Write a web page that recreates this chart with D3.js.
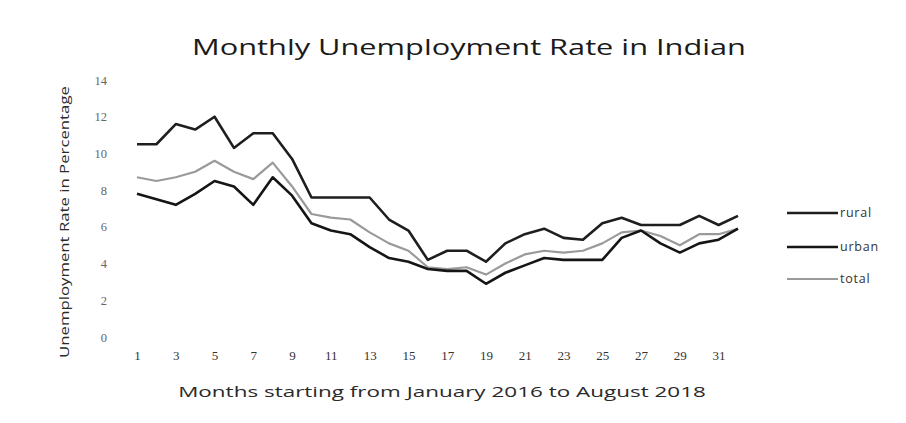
<!DOCTYPE html>
<html>
<head>
<meta charset="utf-8">
<script src="https://cdn.jsdelivr.net/npm/d3@7/dist/d3.min.js"></script>
<style>
  html, body { margin: 0; padding: 0; background: #fff; }
  svg { display: block; }
</style>
</head>
<body>
<svg id="chart" width="906" height="423"></svg>
<script>
const months = d3.range(1, 33);
const rural = [10.5, 10.5, 11.6, 11.3, 12.0, 10.3, 11.1, 11.1, 9.7, 7.6, 7.6, 7.6, 7.6, 6.4, 5.8, 4.2, 4.7, 4.7, 4.1, 5.1, 5.6, 5.9, 5.4, 5.3, 6.2, 6.5, 6.1, 6.1, 6.1, 6.6, 6.1, 6.6];
const urban = [7.8, 7.5, 7.2, 7.8, 8.5, 8.2, 7.2, 8.7, 7.7, 6.2, 5.8, 5.6, 4.9, 4.3, 4.1, 3.7, 3.6, 3.6, 2.9, 3.5, 3.9, 4.3, 4.2, 4.2, 4.2, 5.4, 5.8, 5.1, 4.6, 5.1, 5.3, 5.9];
const total = [8.7, 8.5, 8.7, 9.0, 9.6, 9.0, 8.6, 9.5, 8.2, 6.7, 6.5, 6.4, 5.7, 5.1, 4.7, 3.8, 3.7, 3.8, 3.4, 4.0, 4.5, 4.7, 4.6, 4.7, 5.1, 5.7, 5.8, 5.5, 5.0, 5.6, 5.6, 5.9];
const yTicks = [0, 2, 4, 6, 8, 10, 12, 14];
const xTickLabels = [1, 3, 5, 7, 9, 11, 13, 15, 17, 19, 21, 23, 25, 27, 29, 31];
const seriesNames = ["rural", "urban", "total"];

const title = "Monthly Unemployment Rate in Indian";
const yTitle = "Unemployment Rate in Percentage";
const xTitle = "Months starting from January 2016 to August 2018";

const svg = d3.select("#chart");

const x = d3.scalePoint().domain(months).range([137, 738]);
const y = d3.scaleLinear().domain([0, 14]).range([337, 80]);

const styles = {
  rural: { color: "#1e1e1e", width: 2.6 },
  urban: { color: "#151515", width: 2.6 },
  total: { color: "#9a9a9a", width: 2.2 }
};
const dataBy = { rural, urban, total };

const FONT = "Open Sans, Liberation Sans, sans-serif";

// Stretched text helper: centre (cx, baseline) with target width and optional rotation
function stretchedText(str, cx, cy, size, targetW, color, rotate) {
  const g = svg.append("g").attr("transform", `translate(${cx},${cy})` + (rotate ? ` rotate(${rotate})` : ""));
  const t = g.append("text")
    .attr("text-anchor", "middle")
    .attr("font-family", FONT)
    .attr("font-size", size)
    .attr("fill", color)
    .text(str);
  const w = t.node().getComputedTextLength();
  t.attr("transform", `scale(${targetW / w},1)`);
  return t;
}

// Title
stretchedText(title, 469, 55, 21, 554, "#1a1a1a");

// Y axis
const yAxis = d3.axisLeft(y).tickValues(yTicks).tickSize(0).tickPadding(0);
const gy = svg.append("g").attr("transform", "translate(107,0)").call(yAxis);
gy.select(".domain").remove();
gy.selectAll("text")
  .attr("font-family", "Liberation Serif, serif")
  .attr("font-size", 12.5)
  .attr("fill", "#666");

// X axis
const xAxis = d3.axisBottom(x).tickValues(xTickLabels).tickSize(0).tickPadding(0);
const gx = svg.append("g").attr("transform", "translate(0,351)").call(xAxis);
gx.select(".domain").remove();
gx.selectAll("text")
  .attr("font-family", "Liberation Serif, serif")
  .attr("font-size", 13)
  .attr("fill", "#333");

// Axis titles
stretchedText(yTitle, 69, 222, 13.5, 272, "#2a2a2a", -90);
stretchedText(xTitle, 442, 397, 15, 528, "#2a2a2a");

// Lines
const line = d3.line().x((d, i) => x(months[i])).y(d => y(d));
["total", "urban", "rural"].forEach(name => {
  svg.append("path")
    .datum(dataBy[name])
    .attr("fill", "none")
    .attr("stroke", styles[name].color)
    .attr("stroke-width", styles[name].width)
    .attr("stroke-linejoin", "round")
    .attr("d", line);
});

// Legend
const legendY = { rural: 213, urban: 247, total: 279 };
seriesNames.forEach(name => {
  const g = svg.append("g");
  g.append("line")
    .attr("x1", 787).attr("x2", 838)
    .attr("y1", legendY[name]).attr("y2", legendY[name])
    .attr("stroke", styles[name].color)
    .attr("stroke-width", styles[name].width);
  g.append("text")
    .attr("x", 840).attr("y", legendY[name] + 4)
    .attr("font-family", FONT)
    .attr("font-size", 12.5)
    .attr("fill", "#333")
    .attr("letter-spacing", 0.8)
    .text(name);
});
</script>
</body>
</html>
